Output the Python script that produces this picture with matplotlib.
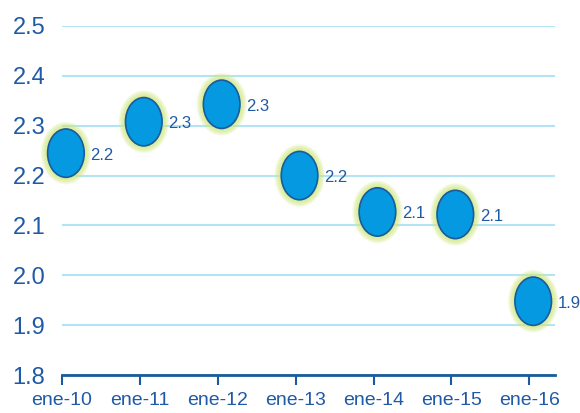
import matplotlib.pyplot as plt
from matplotlib.patches import Ellipse
import numpy as np

plt.rcParams['font.family'] = ['Liberation Sans Narrow', 'Liberation Sans', 'DejaVu Sans']

periodos = ['ene-10', 'ene-11', 'ene-12', 'ene-13', 'ene-14', 'ene-15', 'ene-16']
valores = [2.245, 2.308, 2.343, 2.200, 2.127, 2.122, 1.948]

azul_texto = '#1f5aa6'
azul_relleno = '#0499e0'
azul_borde = '#1b5a9c'
halo = '#d2ea80'
rejilla = '#b3e4f6'

fig = plt.figure(figsize=(5.8, 4.13), dpi=100)
ax = fig.add_axes([62 / 580, 1 - 375 / 413, (555 - 62) / 580, (375 - 26) / 413])

ax.set_xlim(0, 6.33)
ax.set_ylim(1.8, 2.5)

x = np.arange(len(periodos)) + 0.05
w, h = 0.47, 0.097

for xi, yi in zip(x, valores):
    # halo difuso alrededor de cada burbuja
    for k in range(8, 0, -1):
        ax.add_patch(Ellipse((xi, yi), w + k * 0.022, h + k * 0.0036,
                             facecolor=halo, edgecolor='none', alpha=0.18,
                             zorder=3, clip_on=False))
    ax.add_patch(Ellipse((xi, yi), w, h, facecolor=azul_relleno,
                         edgecolor=azul_borde, linewidth=1.2, zorder=4,
                         clip_on=False))
    ax.text(xi + w / 2 + 0.08, yi - 0.004, f'{yi:.1f}', color=azul_texto,
            fontsize=12, va='center', ha='left', zorder=5)

ax.set_yticks(np.arange(1.8, 2.51, 0.1))
ax.set_yticklabels([f'{t:.1f}' for t in np.arange(1.8, 2.51, 0.1)])
ax.set_xticks(np.arange(len(periodos)))
ax.set_xticklabels(periodos)

ax.grid(axis='y', color=rejilla, linewidth=1.5, zorder=1)
ax.set_axisbelow(True)
for s in ['top', 'right', 'left']:
    ax.spines[s].set_visible(False)
ax.spines['bottom'].set_color(azul_borde)
ax.spines['bottom'].set_linewidth(2)
ax.spines['bottom'].set_zorder(2)

ax.tick_params(axis='y', length=0, pad=12, labelsize=17, labelcolor=azul_texto)
ax.tick_params(axis='x', length=7, width=1.5, color=azul_borde, pad=5,
               labelsize=14, labelcolor=azul_texto)

fig.savefig('out.png', dpi=100)
